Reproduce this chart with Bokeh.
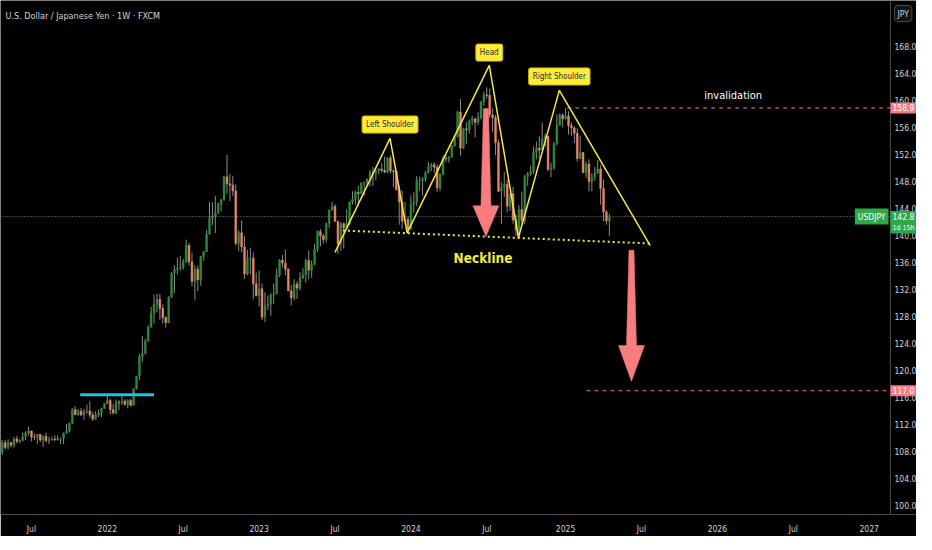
import pandas as pd
from bokeh.plotting import figure
from bokeh.models import (ColumnDataSource, Range1d, FixedTicker, NumeralTickFormatter,
                          CustomJSTickFormatter, Label, LinearAxis)
from bokeh.embed import file_html
from bokeh.resources import INLINE

FONT = "Liberation Sans Narrow, DejaVu Sans Condensed, Roboto, sans-serif"

# ---------------- data: USD/JPY weekly candles ----------------
first_week = "2021-04-26"

opens = [
    107.9, 109.3, 108.6, 109.35, 108.95, 109.85, 109.5, 109.65, 110.2, 110.75, 111.05, 110.15,
    110.1, 110.55, 109.7, 110.25, 109.6, 109.8, 109.85, 109.7, 109.95, 109.95, 110.75, 111.05,
    112.2, 114.2, 113.45, 113.95, 113.4, 113.9, 114.0, 113.4, 112.8, 113.4, 113.7, 114.4,
    # 2022
    115.1, 115.55, 114.2, 113.7, 115.25, 115.2, 115.45, 115.0, 115.55, 114.85, 117.3, 119.2,
    122.05, 122.5, 124.35, 126.4, 128.5, 129.8, 130.55, 129.2, 127.85, 127.1, 130.85, 134.4,
    135.0, 135.2, 135.2, 136.1, 138.55, 136.1, 133.2, 135.0, 133.45, 136.9, 137.6, 140.2,
    142.55, 142.9, 143.35, 144.7, 145.3, 148.7, 147.65, 147.45, 146.6, 138.8, 140.4, 138.3,
    134.3, 136.6, 136.65, 132.85,
    # 2023
    131.1, 132.1, 127.9, 129.6, 129.85, 131.2, 131.35, 134.1, 136.35, 135.9, 135.0, 131.8,
    130.75, 132.8, 132.2, 133.75, 134.15, 136.3, 134.85, 135.7, 137.95, 140.6, 139.95, 139.4,
    141.8, 143.75, 144.3, 142.1, 138.8, 141.75, 141.15, 141.75, 144.95, 145.35, 146.4, 146.2,
    147.8, 147.85, 148.35, 149.35, 149.3, 149.55, 149.85, 149.65, 149.4, 151.5, 149.55, 149.45,
    146.8, 144.95, 142.15, 142.4,
    # 2024
    141.0, 144.65, 144.95, 148.15, 148.15, 148.4, 149.3, 150.2, 150.5, 150.1, 147.05, 149.05,
    151.4, 151.35, 151.6, 153.25, 154.65, 158.3, 152.95, 155.8, 155.65, 157.0, 157.3, 156.75,
    157.4, 159.8, 160.85, 160.75, 157.85, 157.45, 153.75, 146.55, 147.15, 147.6, 144.35, 146.2,
    142.3, 140.85, 143.85, 142.2, 148.7, 149.15, 149.5, 152.3, 152.95, 152.65, 154.3, 154.7,
    149.8, 150.0, 153.6, 156.35, 157.85,
    # 2025
    157.3, 157.7, 156.3, 155.95, 155.15, 151.4, 152.3, 149.3, 150.6, 148.0, 148.65, 149.3,
    149.85, 146.95, 143.5, 142.15,
]

highs = [
    109.7, 109.7, 109.8, 109.4, 110.2, 110.3, 109.8, 110.8, 111.0, 111.65, 111.1, 110.7,
    110.6, 110.6, 110.4, 110.8, 110.2, 110.2, 110.4, 110.4, 110.0, 110.8, 112.1, 112.3,
    114.45, 114.7, 114.3, 114.45, 114.3, 114.95, 115.5, 113.9, 113.95, 114.25, 114.5, 115.2,
    # 2022
    116.35, 115.85, 115.0, 115.7, 115.6, 116.35, 115.8, 115.75, 115.8, 117.35, 119.2, 122.45,
    125.1, 124.7, 126.7, 129.4, 131.25, 131.35, 131.35, 129.8, 128.0, 131.0, 134.55, 135.6,
    136.7, 137.0, 136.55, 139.4, 138.9, 137.45, 135.6, 135.55, 137.0, 137.7, 140.8, 144.95,
    144.95, 145.9, 144.9, 145.4, 148.85, 151.95, 149.1, 148.85, 147.6, 140.8, 142.25, 139.9,
    137.85, 138.2, 137.5, 134.5,
    # 2023
    134.8, 132.9, 131.6, 131.1, 131.45, 132.9, 135.1, 136.5, 137.1, 137.9, 135.15, 132.65,
    133.55, 133.2, 134.55, 135.15, 136.55, 137.8, 136.3, 138.75, 140.75, 140.95, 140.25, 141.9,
    143.85, 145.0, 144.65, 142.2, 142.0, 141.95, 143.9, 145.05, 146.55, 146.65, 147.35, 147.85,
    147.95, 148.45, 149.7, 150.15, 149.8, 150.0, 150.75, 151.7, 151.6, 151.9, 149.8, 149.7,
    147.4, 146.6, 144.95, 142.85,
    # 2024
    145.95, 146.4, 148.8, 148.7, 148.6, 149.55, 150.9, 150.75, 150.85, 150.5, 149.2, 151.85,
    151.95, 151.8, 153.4, 154.8, 158.45, 160.2, 155.95, 156.8, 157.2, 157.7, 157.35, 158.25,
    159.9, 161.3, 161.95, 161.8, 158.85, 157.85, 154.2, 147.9, 149.4, 148.3, 146.25, 147.2,
    143.05, 144.5, 146.5, 149.0, 149.4, 150.3, 153.2, 153.9, 154.7, 156.75, 155.1, 154.7,
    150.8, 153.85, 157.95, 158.1, 158.1,
    # 2025
    158.9, 158.4, 156.75, 156.1, 155.9, 154.8, 152.4, 150.95, 151.3, 149.2, 150.15, 151.2,
    150.5, 148.3, 143.75, 143.2,
]

lows = [
    107.5, 108.3, 108.3, 108.6, 108.6, 109.2, 109.2, 109.5, 109.7, 110.4, 109.5, 109.7,
    109.1, 109.4, 108.7, 109.35, 109.1, 109.6, 109.6, 109.6, 109.1, 109.1, 110.6, 110.8,
    112.1, 113.4, 113.3, 113.3, 112.7, 113.6, 113.0, 112.55, 112.7, 113.1, 113.1, 114.3,
    # 2022
    115.0, 113.5, 113.45, 113.5, 114.15, 114.9, 114.75, 114.4, 114.65, 114.8, 117.2, 118.6,
    121.3, 122.4, 124.3, 126.4, 126.95, 128.6, 127.5, 126.95, 126.35, 127.0, 130.8, 131.5,
    134.25, 134.75, 134.95, 135.95, 135.55, 132.5, 130.4, 131.75, 132.55, 136.25, 137.55, 140.15,
    141.5, 140.35, 143.2, 143.55, 145.2, 146.2, 145.1, 145.9, 138.5, 137.65, 137.5, 133.6,
    134.1, 134.3, 130.55, 130.95,
    # 2023
    129.5, 127.5, 127.2, 129.0, 128.1, 129.8, 131.3, 133.85, 135.25, 134.1, 131.75, 129.65,
    130.4, 130.6, 131.85, 133.55, 133.0, 133.5, 133.75, 135.6, 137.55, 138.4, 138.8, 138.95,
    141.1, 143.7, 142.05, 137.25, 137.7, 138.05, 141.0, 141.5, 144.6, 144.55, 144.45, 146.15,
    145.9, 147.35, 147.3, 147.3, 148.2, 149.1, 149.3, 149.2, 149.2, 149.2, 147.15, 146.65,
    141.6, 140.95, 141.9, 140.25,
    # 2024
    140.8, 143.4, 144.35, 146.65, 145.9, 147.95, 149.2, 149.55, 149.2, 146.5, 146.6, 148.9,
    150.85, 150.8, 151.55, 153.2, 154.5, 151.85, 152.8, 153.6, 155.1, 156.35, 154.55, 156.35,
    157.2, 159.2, 160.3, 157.4, 155.35, 151.9, 146.45, 141.7, 145.7, 143.45, 143.65, 141.75,
    139.95, 139.6, 141.65, 141.7, 147.35, 148.85, 149.1, 151.3, 151.3, 152.6, 153.2, 149.5,
    148.65, 149.75, 153.3, 156.3, 156.0,
    # 2025
    157.2, 154.95, 154.8, 153.7, 150.95, 151.3, 149.3, 148.55, 146.55, 146.55, 148.1, 149.1,
    144.55, 142.05, 141.6, 139.9,
]

closes = [
    109.3, 108.6, 109.35, 108.95, 109.85, 109.5, 109.65, 110.2, 110.75, 111.05, 110.15, 110.1,
    110.55, 109.7, 110.25, 109.6, 109.8, 109.85, 109.7, 109.95, 109.95, 110.75, 111.05, 112.2,
    114.2, 113.45, 113.95, 113.4, 113.9, 114.0, 113.4, 112.8, 113.4, 113.7, 114.4, 115.1,
    # 2022
    115.55, 114.2, 113.7, 115.25, 115.2, 115.45, 115.0, 115.55, 114.85, 117.3, 119.2, 122.05,
    122.5, 124.35, 126.4, 128.5, 129.8, 130.55, 129.2, 127.85, 127.1, 130.85, 134.4, 135.0,
    135.2, 135.2, 136.1, 138.55, 136.1, 133.2, 135.0, 133.45, 136.9, 137.6, 140.2, 142.55,
    142.9, 143.35, 144.7, 145.3, 148.7, 147.65, 147.45, 146.6, 138.8, 140.4, 138.3, 134.3,
    136.6, 136.65, 132.85, 131.1,
    # 2023
    132.1, 127.9, 129.6, 129.85, 131.2, 131.35, 134.1, 136.35, 135.9, 135.0, 131.8, 130.75,
    132.8, 132.2, 133.75, 134.15, 136.3, 134.85, 135.7, 137.95, 140.6, 139.95, 139.4, 141.8,
    143.75, 144.3, 142.1, 138.8, 141.75, 141.15, 141.75, 144.95, 145.35, 146.4, 146.2, 147.8,
    147.85, 148.35, 149.35, 149.3, 149.55, 149.85, 149.65, 149.4, 151.5, 149.55, 149.45, 146.8,
    144.95, 142.15, 142.4, 141.0,
    # 2024
    144.65, 144.95, 148.15, 148.15, 148.4, 149.3, 150.2, 150.5, 150.1, 147.05, 149.05, 151.4,
    151.35, 151.6, 153.25, 154.65, 158.3, 152.95, 155.8, 155.65, 157.0, 157.3, 156.75, 157.4,
    159.8, 160.85, 160.75, 157.85, 157.45, 153.75, 146.55, 147.15, 147.6, 144.35, 146.2, 142.3,
    140.85, 143.85, 142.2, 148.7, 149.15, 149.5, 152.3, 152.95, 152.65, 154.3, 154.7, 149.8,
    150.0, 153.6, 156.35, 157.85, 157.3,
    # 2025
    157.7, 156.3, 155.95, 155.15, 151.4, 152.3, 149.3, 150.6, 148.0, 148.65, 149.3, 149.85,
    146.95, 143.5, 142.15, 142.8,
]

# ---------------- annotation anchors (dates / prices) ----------------
pattern_dates = ["2023-07-03", "2023-11-12", "2023-12-23", "2024-07-07",
                 "2024-09-15", "2024-12-22", "2025-07-28"]
pattern_prices = [137.5, 154.4, 140.4, 165.2, 139.7, 161.5, 138.5]
neck_dates = ["2023-07-22", "2025-07-28"]
neck_prices = [140.74, 138.81]
support_dates = ["2021-10-30", "2022-04-25"]
support_price = 116.4
invalid_start = "2025-01-10"
invalid_price = 158.9
target_start = "2025-02-25"
target_price = 117.0
last_price = 142.8
arrow_dates = ["2024-06-29", "2025-06-13"]
arrow_tops = [158.8, 137.8]
arrow_bases = [144.4, 123.7]
arrow_tips = [139.85, 118.4]
part_texts = ["Left Shoulder", "Head", "Right Shoulder"]
part_dates = ["2023-11-12", "2024-07-07", "2024-12-22"]
part_prices = [156.44, 167.1, 163.56]
neck_text_date = "2024-06-22"
neck_text_price = 136.74
invalid_text_date = "2026-02-12"
invalid_text_price = 160.74
y_ticks = list(range(100, 172, 4))
x_tick_dates = ["2021-07-05", "2022-01-03", "2022-07-04", "2023-01-02", "2023-07-03",
                "2024-01-01", "2024-07-01", "2025-01-06", "2025-07-07", "2026-01-05",
                "2026-07-06", "2027-01-04"]

# ---------------- layout constants ----------------
DAY_MS = 86400000.0
PX_PER_DAY = 152.3 / 365.25
PX_PER_PRICE = 6.75
FRAME_W, FRAME_H = 916, 514
AXIS_PX = 890             # frame x of the price scale
ANCHOR_PX = 106.0         # frame x of 2022-01-01
PRICE168_PX = 46.0        # frame y of price 168

UP, DOWN, WICK = "#2f8a3c", "#e8876b", "#8a8a8a"
YELLOW, PINK, GREEN, CYAN = "#f4e842", "#f77c80", "#2ea84a", "#22c1dc"
TXT = "#d1d4dc"


def ms(d):
    return pd.Timestamp(d).value / 1e6


def px_days(px):
    return px / PX_PER_DAY * DAY_MS


anchor = ms("2022-01-01")
x_start = anchor - px_days(ANCHOR_PX)
x_end = anchor + px_days(FRAME_W - ANCHOR_PX)
x_axis = anchor + px_days(AXIS_PX - ANCHOR_PX)
y_top = 168 + PRICE168_PX / PX_PER_PRICE
y_bot = 168 - (FRAME_H - PRICE168_PX) / PX_PER_PRICE

dates = pd.date_range(first_week, periods=len(closes), freq="7D")
xs = [ms(d) for d in dates]
src = ColumnDataSource(dict(
    x=xs, o=opens, h=highs, l=lows, c=closes,
    top=[max(o, c) for o, c in zip(opens, closes)],
    bottom=[min(o, c) for o, c in zip(opens, closes)],
    color=[UP if c >= o else DOWN for o, c in zip(opens, closes)],
))

p = figure(frame_width=FRAME_W, frame_height=FRAME_H,
           x_range=Range1d(x_start, x_end), y_range=Range1d(y_bot, y_top),
           y_axis_location=None, output_backend="svg", toolbar_location=None,
           background_fill_color="black", border_fill_color="black",
           min_border=0, outline_line_color=None)
p.grid.visible = False

yax = LinearAxis(fixed_location=x_axis, ticker=FixedTicker(ticks=y_ticks),
                 formatter=NumeralTickFormatter(format="0.0"))
p.add_layout(yax, "right")

for ax in (p.xaxis[0], yax):
    ax.axis_line_color = "#4a4a4a"
    ax.major_tick_line_color = None
    ax.minor_tick_line_color = None
    ax.major_label_text_color = TXT
    ax.major_label_text_font = FONT
    ax.major_label_text_font_size = "8.5px"
    ax.major_tick_out = 0
    ax.major_tick_in = 0

yax.major_label_standoff = 4
p.xaxis.ticker = FixedTicker(ticks=[ms(d) for d in x_tick_dates])
p.xaxis.formatter = CustomJSTickFormatter(code="""
const d = new Date(tick);
return d.getUTCMonth() == 0 ? String(d.getUTCFullYear()) : "Jul";
""")
p.xaxis.major_label_standoff = 9

# current price dotted line
p.line([x_start, x_axis], [last_price] * 2, line_color="#8c8c8c", line_dash="1 2",
       line_width=1)

# candles
p.segment(x0="x", y0="l", x1="x", y1="h", source=src, line_color=WICK, line_width=1)
p.vbar(x="x", width=7 * DAY_MS * 0.62, top="top", bottom="bottom", source=src,
       fill_color="color", line_color="color", line_width=0.5)

# cyan support line
p.line([ms(d) for d in support_dates], [support_price] * 2, line_color=CYAN, line_width=3)

# invalidation and target dashed lines
p.line([ms(invalid_start), x_axis], [invalid_price] * 2, line_color=PINK, line_width=1,
       line_dash="4 4")
p.line([ms(target_start), x_axis], [target_price] * 2, line_color=PINK, line_width=1,
       line_dash="4 4")

# head & shoulders zigzag and neckline
p.line([ms(d) for d in pattern_dates], pattern_prices, line_color=YELLOW, line_width=1.5)
p.line([ms(d) for d in neck_dates], neck_prices, line_color=YELLOW, line_width=2,
       line_dash="2 3")

# arrows
for d, top, base, tip in zip(arrow_dates, arrow_tops, arrow_bases, arrow_tips):
    xc = ms(d)
    st, sb, hw = px_days(2.5), px_days(5), px_days(13)
    p.patch([xc - st, xc + st, xc + sb, xc + hw, xc, xc - hw, xc - sb],
            [top, top, base, base, tip, base, base],
            fill_color=PINK, line_color=PINK, line_width=0.5)

# pattern labels
for t, d, pr in zip(part_texts, part_dates, part_prices):
    p.add_layout(Label(x=ms(d), y=pr, text=t, text_align="center", text_baseline="middle",
                       text_font=FONT, text_font_size="8px", text_color="#2a2a2a",
                       background_fill_color="#ffeb3b", border_line_color="#d8c400",
                       padding=4, border_radius=2))

p.add_layout(Label(x=ms(neck_text_date), y=neck_text_price, text="Neckline",
                   text_align="center", text_baseline="middle", text_font=FONT,
                   text_font_size="13.5px", text_font_style="bold", text_color=YELLOW))
p.add_layout(Label(x=ms(invalid_text_date), y=invalid_text_price, text="invalidation",
                   text_align="center", text_baseline="middle", text_font=FONT,
                   text_font_size="11px", text_color="#ffffff"))

# title
p.add_layout(Label(x=x_start, y=y_top, x_offset=5, y_offset=-15,
                   text="U.S. Dollar / Japanese Yen · 1W · FXCM",
                   text_align="left", text_baseline="middle", text_font=FONT,
                   text_font_size="9px", text_color=TXT))

# axis price tags
for pr in (invalid_price, target_price):
    p.add_layout(Label(x=x_axis, y=pr, x_offset=0, text=f"{pr:.1f}", text_align="left",
                       text_baseline="middle", text_font=FONT, text_font_size="8.5px",
                       text_color="white", background_fill_color=PINK, padding=2))

p.add_layout(Label(x=x_axis, y=last_price, x_offset=-2, text="USDJPY", text_align="right",
                   text_baseline="middle", text_font=FONT, text_font_size="8.5px",
                   text_color="white", background_fill_color=GREEN, padding=3))
p.add_layout(Label(x=x_axis, y=last_price, x_offset=0, text=f"{last_price:.1f}",
                   text_align="left", text_baseline="middle", text_font=FONT,
                   text_font_size="8.5px", text_color="white", background_fill_color=GREEN,
                   padding=2))
p.add_layout(Label(x=x_axis, y=last_price, x_offset=0, y_offset=-11, text="1d 15h",
                   text_align="left", text_baseline="middle", text_font=FONT,
                   text_font_size="7px", text_color="white", background_fill_color=GREEN,
                   padding=2))

# currency box
p.add_layout(Label(x=x_axis, y=y_top, x_offset=4, y_offset=-5, text="JPY", text_align="left",
                   text_baseline="top", text_font=FONT, text_font_size="8.5px",
                   text_color=TXT, background_fill_color="#131313",
                   border_line_color="#4a4a4a", padding=3, border_radius=3))

open("out.html", "w").write(file_html(p, INLINE))
